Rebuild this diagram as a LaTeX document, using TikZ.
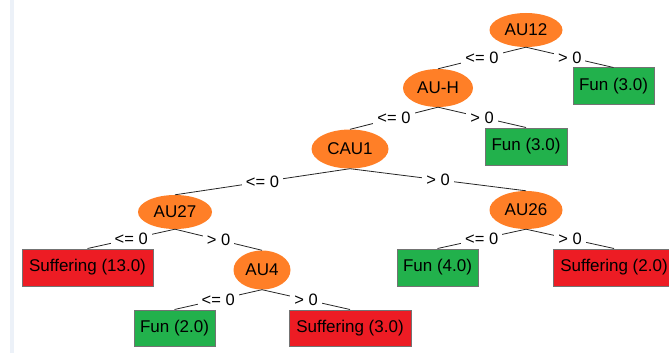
\documentclass[tikz,border=0pt]{standalone}
\usepackage{fontspec}
\setmainfont{Liberation Sans}
\usetikzlibrary{shapes.geometric}
\definecolor{wkorange}{RGB}{255,127,39}
\definecolor{wkgreen}{RGB}{34,177,76}
\definecolor{wkred}{RGB}{237,28,36}
\definecolor{wkstrip}{RGB}{236,241,248}
\tikzset{
  splitnode/.style={ellipse, fill=wkorange, draw=none, inner sep=0pt, font=\fontsize{17}{19}\selectfont},
  leafbox/.style={rectangle, draw=black!55, line width=1pt, inner sep=0pt, minimum height=36pt, font=\fontsize{17}{19}\selectfont},
  funbox/.style={leafbox, fill=wkgreen},
  sufbox/.style={leafbox, fill=wkred},
  edgelbl/.style={fill=white, inner xsep=4pt, inner ysep=1pt, font=\fontsize{16.5}{18}\selectfont},
  conn/.style={draw=black!85, line width=0.8pt}
}
\begin{document}
\begin{tikzpicture}[x=1pt, y=-1pt]
\useasboundingbox (0,0) rectangle (669,353);
\fill[wkstrip] (10,0) rectangle (14,353);
% split nodes
\node[splitnode, minimum width=73pt, minimum height=34pt] (au12) at (526,30) {AU12};
\node[splitnode, minimum width=70pt, minimum height=38pt] (auh) at (438,88) {AU-H};
\node[splitnode, minimum width=77pt, minimum height=39pt] (cau1) at (350,149) {CAU1};
\node[splitnode, minimum width=74pt, minimum height=34pt] (au27) at (175,212) {AU27};
\node[splitnode, minimum width=57pt, minimum height=39pt] (au4) at (262,270) {AU4};
\node[splitnode, minimum width=73pt, minimum height=38pt] (au26) at (526,210) {AU26};
% leaves
\node[funbox, minimum width=81pt] (funa) at (613.5,86) {Fun (3.0)};
\node[funbox, minimum width=82pt, minimum height=37pt] (funb) at (526,146.5) {Fun (3.0)};
\node[sufbox, minimum width=131pt, minimum height=37pt] (suf13) at (87.5,267.5) {Suffering (13.0)};
\node[funbox, minimum width=81pt, minimum height=37pt] (fun4) at (437.5,267.5) {Fun (4.0)};
\node[sufbox, minimum width=122pt, minimum height=37pt] (suf2) at (614,267.5) {Suffering (2.0)};
\node[funbox, minimum width=81pt] (fun2) at (174.5,328) {Fun (2.0)};
\node[sufbox, minimum width=122pt] (suf3) at (350,328) {Suffering (3.0)};
% connectors
\draw[conn] (au12.south) -- node[edgelbl] {<= 0} (auh.north);
\draw[conn] (au12.south) -- node[edgelbl] {> 0} (funa.north);
\draw[conn] (auh.south) -- node[edgelbl] {<= 0} (cau1.north);
\draw[conn] (auh.south) -- node[edgelbl] {> 0} (funb.north);
\draw[conn] (cau1.south) -- node[edgelbl] {<= 0} (au27.north);
\draw[conn] (cau1.south) -- node[edgelbl] {> 0} (au26.north);
\draw[conn] (au27.south) -- node[edgelbl] {<= 0} (suf13.north);
\draw[conn] (au27.south) -- node[edgelbl] {> 0} (au4.north);
\draw[conn] (au4.south) -- node[edgelbl] {<= 0} (fun2.north);
\draw[conn] (au4.south) -- node[edgelbl] {> 0} (suf3.north);
\draw[conn] (au26.south) -- node[edgelbl] {<= 0} (fun4.north);
\draw[conn] (au26.south) -- node[edgelbl] {> 0} (suf2.north);
\end{tikzpicture}
\end{document}
